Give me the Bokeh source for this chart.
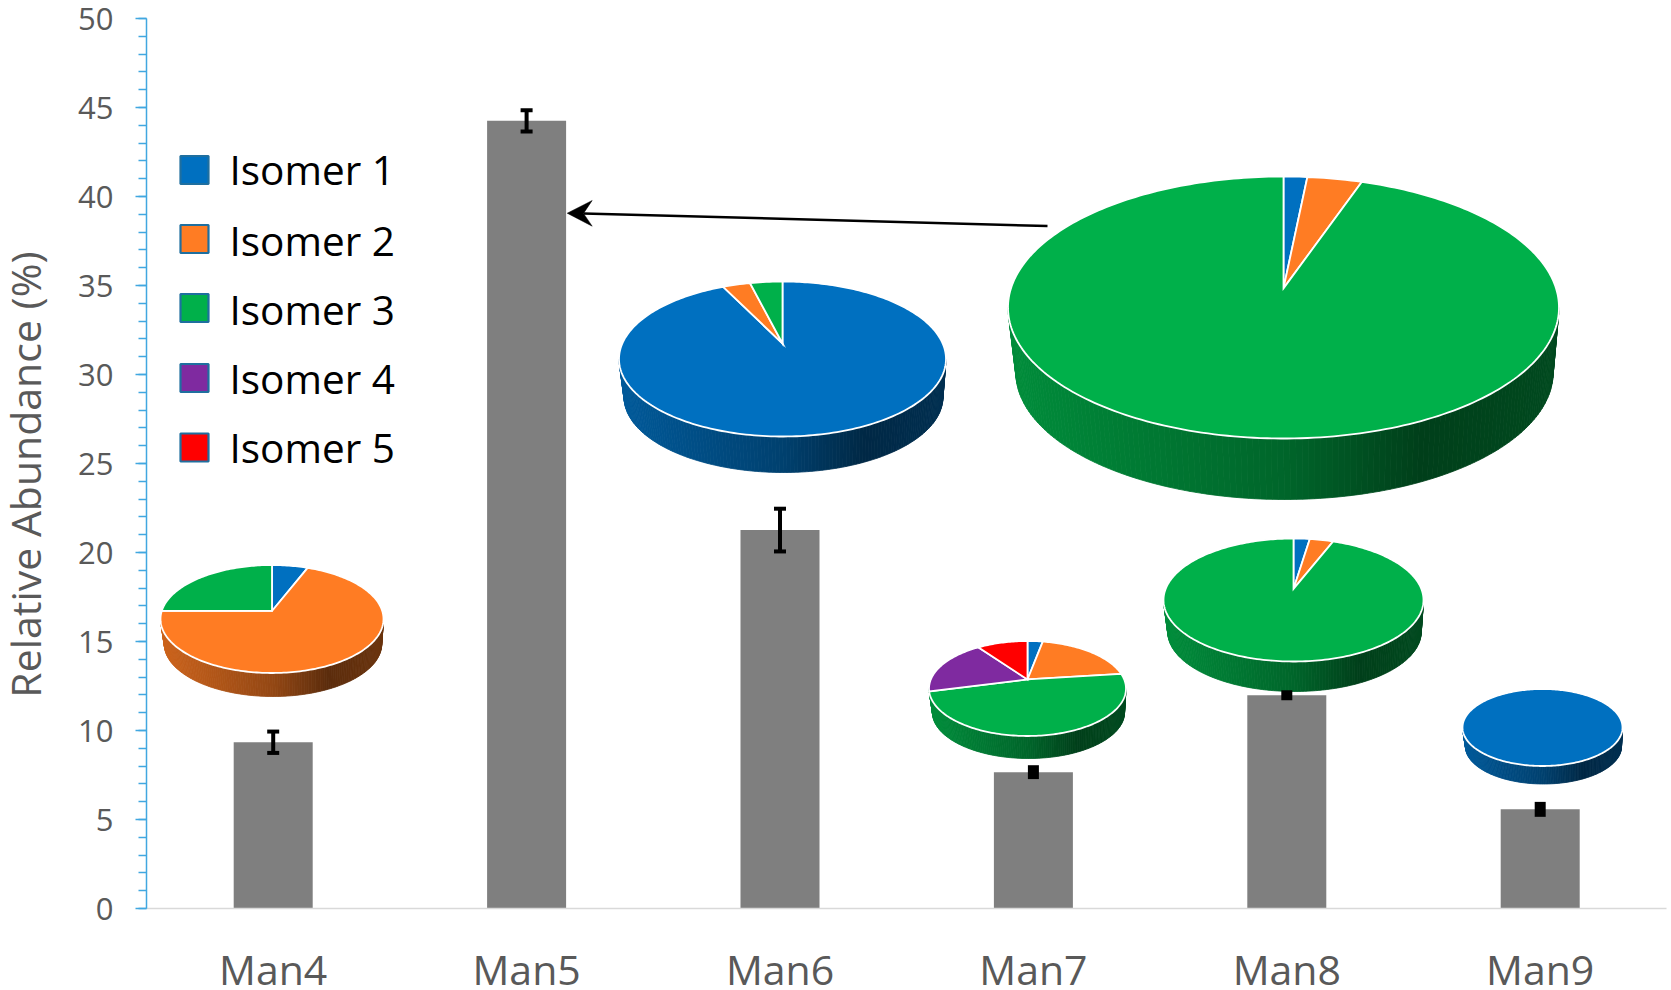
import numpy as np
from bokeh.embed import file_html
from bokeh.resources import INLINE
from bokeh.plotting import figure
from bokeh.models import Range1d, ColumnDataSource, Whisker, TeeHead, FixedTicker
from bokeh.core.properties import value

categories = ["Man4", "Man5", "Man6", "Man7", "Man8", "Man9"]
abundance = [9.34, 44.25, 21.26, 7.66, 11.98, 5.57]
abundance_err = [0.6, 0.6, 1.2, 0.39, 0.28, 0.42]

isomer_labels = ["Isomer 1", "Isomer 2", "Isomer 3", "Isomer 4", "Isomer 5"]
isomer_colors = ["#0070c0", "#ff7c23", "#00b04a", "#7f2aa0", "#ff0000"]
isomer1 = [6.0, 1.6, 92.8, 3.0, 2.4, 100.0]
isomer2 = [69.0, 3.7, 3.3, 20.0, 3.5, 0.0]
isomer3 = [25.0, 94.7, 3.9, 48.0, 94.1, 0.0]
isomer4 = [0.0, 0.0, 0.0, 19.0, 0.0, 0.0]
isomer5 = [0.0, 0.0, 0.0, 10.0, 0.0, 0.0]
side_isomer = [1, 2, 0, 2, 2, 0]

# layout, in page pixels: centre x, centre y, rx, ry, apex shift, wall depth
pie_layout = [
    (271.5, 618.5, 111.5, 54.0, 0.149, 23.5),
    (1283.0, 307.0, 275.5, 131.0, 0.146, 61.0),
    (782.0, 358.5, 163.5, 77.5, 0.200, 36.0),
    (1027.0, 688.0, 98.5, 47.5, 0.190, 22.5),
    (1293.0, 599.5, 130.0, 61.5, 0.180, 30.0),
    (1542.0, 727.0, 80.0, 38.5, 0.000, 18.0),
]

PAGE_W, PAGE_H = 1671, 990
AXIS_L, AXIS_R, AXIS_T, AXIS_B = 146, 1666, 18, 908
CAT_STEP = 253.4
UNIT = (AXIS_B - AXIS_T) / 50.0

def X(px):
    return (np.asarray(px, dtype=float) - AXIS_L) / CAT_STEP

def Y(py):
    return (AXIS_B - np.asarray(py, dtype=float)) / UNIT

xpos = [i + 0.5 for i in range(len(categories))]

p = figure(
    width=PAGE_W, height=PAGE_H, output_backend="svg", toolbar_location=None,
    x_range=Range1d(float(X(0)), float(X(PAGE_W))), y_range=Range1d(float(Y(PAGE_H)), float(Y(0))),
    min_border_left=0, min_border_right=0, min_border_top=0, min_border_bottom=0,
)
p.outline_line_color = None
p.grid.visible = False
p.background_fill_color = "white"

xa = p.xaxis[0]
xa.fixed_location = 0
xa.bounds = (0, float(X(AXIS_R)))
xa.ticker = FixedTicker(ticks=xpos)
xa.major_label_overrides = {x: c for x, c in zip(xpos, categories)}
xa.axis_line_color = "#d9d9d9"
xa.axis_line_width = 1.5
xa.major_tick_line_color = None
xa.minor_tick_line_color = None
xa.major_label_text_font = "Open Sans"
xa.major_label_text_font_size = "41px"
xa.major_label_text_color = "#595959"
xa.major_label_standoff = 26

ya = p.yaxis[0]
ya.fixed_location = 0
ya.bounds = (0, 50)
ya.ticker = FixedTicker(ticks=list(range(0, 51, 5)), minor_ticks=list(range(0, 51)))
ya.axis_line_color = "#41a7e0"
ya.axis_line_width = 1.5
ya.major_tick_line_color = "#41a7e0"
ya.major_tick_line_width = 1.5
ya.major_tick_out = 11
ya.major_tick_in = 0
ya.minor_tick_line_color = "#41a7e0"
ya.minor_tick_line_width = 1.5
ya.minor_tick_out = 8
ya.minor_tick_in = 0
ya.major_label_text_font = "Open Sans"
ya.major_label_text_font_size = "31px"
ya.major_label_text_color = "#595959"
ya.major_label_standoff = 22

p.text(X([24.5]), Y([474]), text=["Relative Abundance (%)"], angle=np.pi / 2,
       text_align="center", text_baseline="middle", text_font=value("Open Sans"),
       text_font_size="41px", text_color="#595959")

# bars and error bars
p.vbar(x=xpos, top=abundance, width=79 / CAT_STEP, bottom=0, fill_color="#7f7f7f", line_color=None)

def err_source(keep):
    idx = [i for i, e in enumerate(abundance_err) if keep(e)]
    return ColumnDataSource(dict(
        x=[xpos[i] for i in idx],
        upper=[abundance[i] + abundance_err[i] for i in idx],
        lower=[abundance[i] - abundance_err[i] for i in idx],
    ))

p.add_layout(Whisker(
    source=err_source(lambda e: e >= 0.5), base="x", upper="upper", lower="lower", level="annotation",
    line_color="black", line_width=4,
    upper_head=TeeHead(size=12, line_color="black", line_width=4),
    lower_head=TeeHead(size=12, line_color="black", line_width=4),
))
# the smallest error bars close up into solid black blocks
p.add_layout(Whisker(
    source=err_source(lambda e: e < 0.5), base="x", upper="upper", lower="lower", level="annotation",
    line_color="black", line_width=11, line_cap="butt", upper_head=None, lower_head=None,
))

# pies
shade_t = [0.0, 0.5, 0.75, 1.0]
shade_f = [0.80, 0.58, 0.36, 0.42]

def shade(hexcol, t):
    f = np.interp(t, shade_t, shade_f)
    r, g, b = (int(hexcol[i:i + 2], 16) for i in (1, 3, 5))
    return "#%02x%02x%02x" % (int(r * f), int(g * f), int(b * f))

def rim(theta, c):
    # perspective map of the unit circle that sends its centre to the apex
    x, y = np.sin(theta), np.cos(theta)
    s = np.sqrt(1 - c * c)
    d = 1 + c * y
    return x * s / d, (y + c) / d

fracs = list(zip(isomer1, isomer2, isomer3, isomer4, isomer5))
for i, (cx, cy, rx, ry, c, depth) in enumerate(pie_layout):
    # wall
    rx2, ry2 = rx * 0.975, ry * 0.97
    cx2, cy2 = cx + 1.0, cy + ry + depth - ry2
    ts = np.linspace(0, np.pi, 141)
    xs, ys, cols = [], [], []
    base = isomer_colors[side_isomer[i]]
    for a, b in zip(ts[:-1], ts[1:]):
        xq = [cx + rx * np.cos(a), cx + rx * np.cos(b), cx2 + rx2 * np.cos(b), cx2 + rx2 * np.cos(a)]
        yq = [cy + ry * np.sin(a), cy + ry * np.sin(b), cy2 + ry2 * np.sin(b), cy2 + ry2 * np.sin(a)]
        xs.append(X(xq).tolist())
        ys.append(Y(yq).tolist())
        cols.append(shade(base, 0.5 + 0.5 * np.cos((a + b) / 2)))
    p.patches(xs, ys, fill_color=cols, line_color=cols, line_width=0.8)
    # top face
    start = 0.0
    for f, col in zip(fracs[i], isomer_colors):
        if f <= 0:
            continue
        end = start + f / 100.0
        th = 2 * np.pi * np.linspace(start, end, max(3, int(f * 3)))
        u, v = rim(th, c)
        px = cx + rx * u
        py = cy - ry * v
        if f < 100:
            px = np.r_[cx, px]
            py = np.r_[cy - ry * c, py]
        p.patch(X(px).tolist(), Y(py).tolist(), fill_color=col, line_color="white", line_width=1.8,
                line_join="miter")
        start = end

# arrow
p.line(X([1047, 583]), Y([225.5, 213]), line_color="black", line_width=2.5)
p.patch(X([566.7, 591.7, 583, 591.7]), Y([212.7, 200, 212.9, 225.7]), fill_color="black", line_color="black", line_width=0.5)

# legend
legend_square_y = [169.5, 238.5, 307.5, 377.5, 447]
legend_text_y = [168.5, 239.5, 309, 378, 447]
p.scatter(X([194] * 5), Y(legend_square_y), marker="square", size=28,
          fill_color=isomer_colors, line_color="#1f6f9f", line_width=2.2)
p.text(X([229] * 5), Y(legend_text_y), text=isomer_labels, text_font=value("Open Sans"),
       text_font_size="40.5px", text_color="black", text_baseline="middle", text_align="left")

open("out.html", "w").write(file_html(p, INLINE))
